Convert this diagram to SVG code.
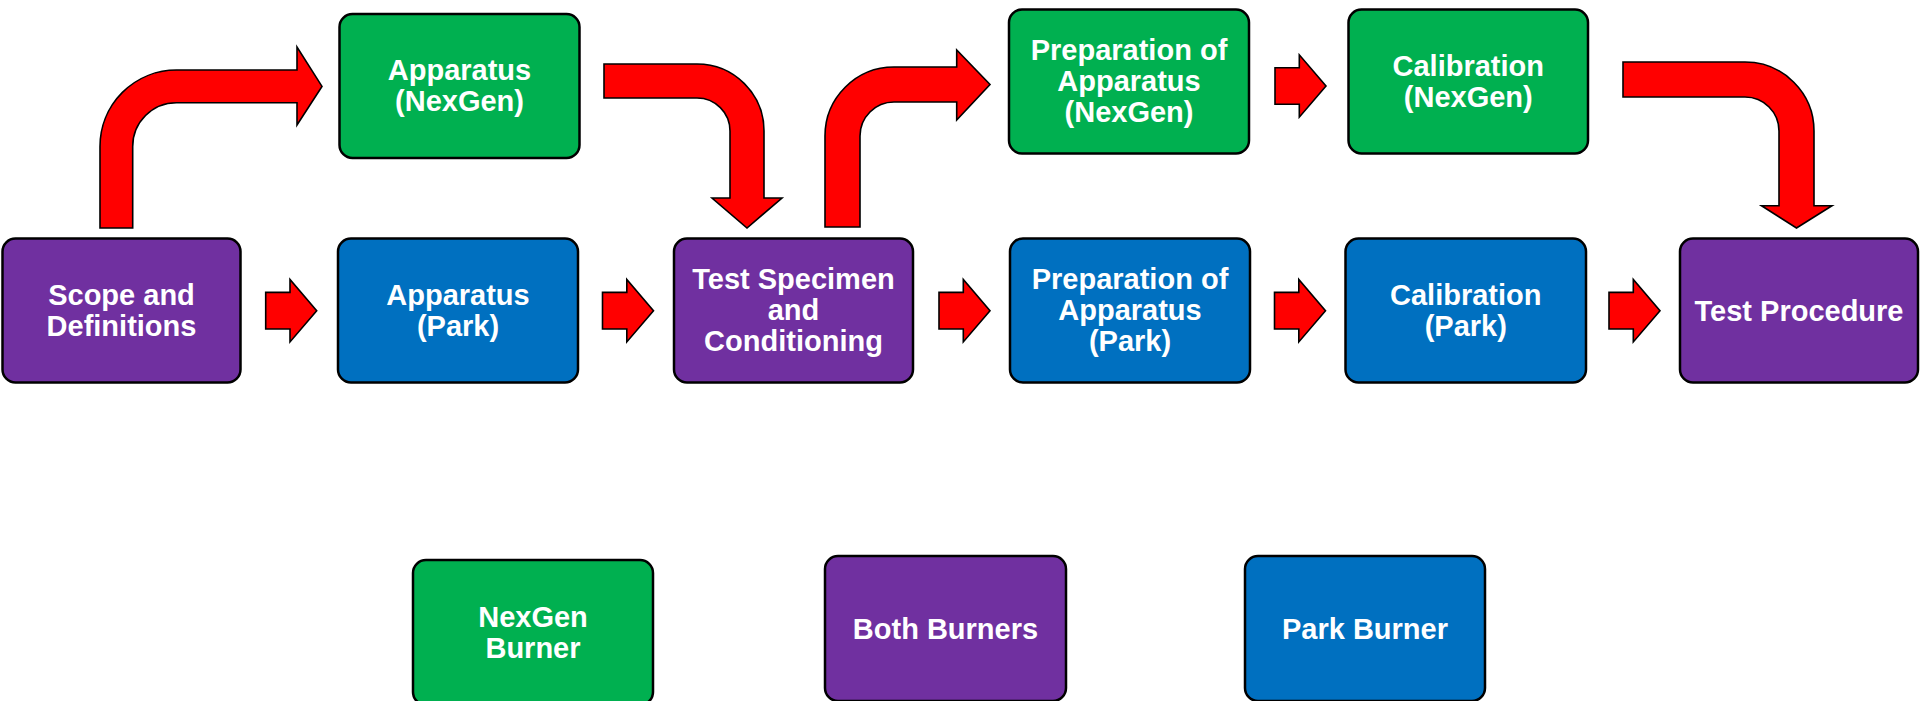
<svg xmlns="http://www.w3.org/2000/svg" xmlns:xlink="http://www.w3.org/1999/xlink" width="1920" height="701" viewBox="0 0 1920 701">
<style>
.box{stroke:#000;stroke-width:2.5}
.green{fill:#00B050}
.purple{fill:#7030A0}
.blue{fill:#0070C0}
.arr{fill:#FF0000;stroke:#000;stroke-width:1.6;stroke-linejoin:miter}
text{font-family:"Liberation Sans",Arial,Helvetica,sans-serif;font-weight:bold;font-size:29px;fill:#FFFFFF;text-anchor:middle}
</style>
<defs>
<path id="sa" class="arr" d="M -51,-18.3 H -26.7 V -31.2 L 0,0 L -26.7,31.2 V 18.3 H -51 Z"/>
</defs>
<rect width="1920" height="701" fill="#FFFFFF"/>
<g id="connectors">
<path class="arr" d="M 100,228 V 146.5 A 76.5,76.5 0 0 1 176.5,70 H 297 V 47 L 322,86.4 L 297,125 V 102.7 H 176.5 A 43.8,43.8 0 0 0 132.7,146.5 V 228 Z"/>
<path class="arr" d="M 604,64 H 697 A 67,67 0 0 1 764,131 V 198 H 782 L 747,228 L 712,198 H 730 V 131 A 33,33 0 0 0 697,98 H 604 Z"/>
<path class="arr" d="M 825,227 V 136 A 69,69 0 0 1 894,67 H 956.7 V 50 L 990,84.5 L 956.7,120 V 102 H 894 A 34,34 0 0 0 860,136 V 227 Z"/>
<path class="arr" d="M 1623,62 H 1745 A 69,69 0 0 1 1814,131 V 205.7 H 1832 L 1796.5,228 L 1761.5,205.7 H 1779 V 131 A 34,34 0 0 0 1745,97 H 1623 Z"/>
<use xlink:href="#sa" href="#sa" transform="translate(316.7,310.7)"/>
<use xlink:href="#sa" href="#sa" transform="translate(653.5,310.7)"/>
<use xlink:href="#sa" href="#sa" transform="translate(990,310.7)"/>
<use xlink:href="#sa" href="#sa" transform="translate(1325.5,310.7)"/>
<use xlink:href="#sa" href="#sa" transform="translate(1660,310.7)"/>
<use xlink:href="#sa" href="#sa" transform="translate(1326,86)"/>
</g>
<g id="n-scope">
<rect class="box purple" x="2.5" y="238.5" width="238" height="144" rx="13"/>
<text x="121.5" y="304.5">Scope and</text>
<text x="121.5" y="335.5">Definitions</text>
</g>
<g id="n-app-park">
<rect class="box blue" x="338" y="238.5" width="240" height="144" rx="13"/>
<text x="458" y="304.5">Apparatus</text>
<text x="458" y="335.5">(Park)</text>
</g>
<g id="n-specimen">
<rect class="box purple" x="674" y="238.5" width="239" height="144" rx="13"/>
<text x="793.5" y="289">Test Specimen</text>
<text x="793.5" y="320">and</text>
<text x="793.5" y="351">Conditioning</text>
</g>
<g id="n-prep-park">
<rect class="box blue" x="1010" y="238.5" width="240" height="144" rx="13"/>
<text x="1130" y="289">Preparation of</text>
<text x="1130" y="320">Apparatus</text>
<text x="1130" y="351">(Park)</text>
</g>
<g id="n-calib-park">
<rect class="box blue" x="1345.5" y="238.5" width="240.5" height="144" rx="13"/>
<text x="1465.75" y="304.5">Calibration</text>
<text x="1465.75" y="335.5">(Park)</text>
</g>
<g id="n-test-proc">
<rect class="box purple" x="1680" y="238.5" width="238" height="144" rx="13"/>
<text x="1799" y="320.5">Test Procedure</text>
</g>
<g id="n-app-nexgen">
<rect class="box green" x="339.5" y="14" width="240" height="144" rx="13"/>
<text x="459.5" y="80">Apparatus</text>
<text x="459.5" y="111">(NexGen)</text>
</g>
<g id="n-prep-nexgen">
<rect class="box green" x="1009" y="9.5" width="240" height="144" rx="13"/>
<text x="1129" y="60">Preparation of</text>
<text x="1129" y="91">Apparatus</text>
<text x="1129" y="122">(NexGen)</text>
</g>
<g id="n-calib-nexgen">
<rect class="box green" x="1348.5" y="9.5" width="239.5" height="144" rx="13"/>
<text x="1468.25" y="76">Calibration</text>
<text x="1468.25" y="107">(NexGen)</text>
</g>
<g id="legend-nexgen">
<rect class="box green" x="413" y="560" width="240" height="145" rx="13"/>
<text x="533" y="627">NexGen</text>
<text x="533" y="658">Burner</text>
</g>
<g id="legend-both">
<rect class="box purple" x="825" y="556" width="241" height="145" rx="13"/>
<text x="945.5" y="638.5">Both Burners</text>
</g>
<g id="legend-park">
<rect class="box blue" x="1245" y="556" width="240" height="145" rx="13"/>
<text x="1365" y="638.5">Park Burner</text>
</g>
</svg>
